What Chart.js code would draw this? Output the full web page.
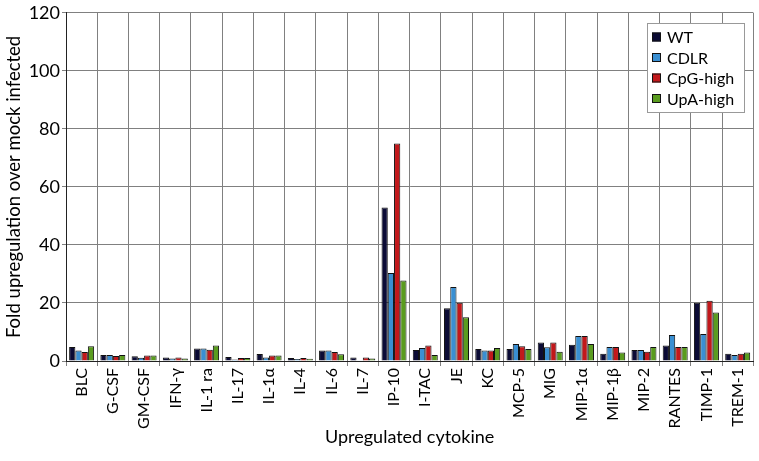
<!DOCTYPE html>
<html><head><meta charset="utf-8">
<script src="https://cdn.jsdelivr.net/npm/chart.js@4/dist/chart.umd.min.js"></script>
<style>html,body{margin:0;padding:0;background:#fff}</style>
</head><body>
<canvas id="c" width="759" height="461"></canvas>
<script>
const categories = ["BLC","G-CSF","GM-CSF","IFN-\u03b3","IL-1 ra","IL-17","IL-1\u03b1","IL-4","IL-6","IL-7","IP-10","I-TAC","JE","KC","MCP-5","MIG","MIP-1\u03b1","MIP-1\u03b2","MIP-2","RANTES","TIMP-1","TREM-1"];
const seriesNames = ["WT","CDLR","CpG-high","UpA-high"];
const wtValues   = [4.8,2.1,1.6,1.2,4.3,1.4,2.4,1.0,3.6,1.2,52.9,3.8,18.2,4.1,4.1,6.4,5.6,2.5,3.8,5.3,20.1,2.5];
const cdlrValues = [3.6,2.1,1.1,0.9,4.3,0.5,1.2,0.7,3.6,0.3,30.3,4.5,25.5,3.6,5.9,4.7,8.6,4.8,3.8,9.0,9.3,2.1];
const cpgValues  = [3.1,1.7,1.9,1.2,3.9,1.0,1.9,1.0,3.1,1.2,75.0,5.3,20.1,3.6,5.1,6.4,8.6,4.8,3.2,4.8,20.8,2.5];
const upaValues  = [5.1,2.1,1.9,0.9,5.3,1.0,1.9,0.8,2.3,0.9,27.7,2.1,15.1,4.5,4.1,3.2,5.9,2.9,4.8,4.8,16.7,2.9];
const yTicks = [0,20,40,60,80,100,120];
const colors = ["#0b0b35","#3a8fd2","#c2181b","#5a9c1f"];
const FONT = "Lato, 'Open Sans', sans-serif";

const legendBox = {
  id: 'legendBox',
  afterDraw(chart) {
    const ctx = chart.ctx;
    const x0 = 647, y0 = 23, w = 97, h = 89;
    ctx.save();
    ctx.fillStyle = '#fff';
    ctx.fillRect(x0, y0, w, h);
    ctx.strokeStyle = '#999';
    ctx.lineWidth = 1;
    ctx.strokeRect(x0 + 0.5, y0 + 0.5, w, h);
    ctx.font = "16px " + FONT;
    ctx.textBaseline = 'middle';
    chart.data.datasets.forEach((ds, i) => {
      const cy = y0 + 14 + i * 20.5;
      ctx.fillStyle = ds.backgroundColor;
      ctx.fillRect(x0 + 5, cy - 4.5, 9, 9);
      ctx.strokeStyle = '#111';
      ctx.strokeRect(x0 + 5.5, cy - 4, 8, 8);
      ctx.fillStyle = '#000';
      ctx.fillText(ds.label, x0 + 20, cy + 1);
    });
    ctx.restore();
  }
};

const values = [wtValues, cdlrValues, cpgValues, upaValues];
new Chart(document.getElementById('c'), {
  type: 'bar',
  data: {
    labels: categories,
    datasets: seriesNames.map((n, i) => ({
      label: n, data: values[i], backgroundColor: colors[i],
      borderColor: '#111', borderWidth: 1,
      categoryPercentage: 0.8, barPercentage: 1.0
    }))
  },
  options: {
    responsive: false, animation: false,
    layout: { padding: { top: 7, right: 5, left: 0, bottom: 0 } },
    plugins: { legend: { display: false }, tooltip: { enabled: false } },
    scales: {
      x: {
        grid: { color: '#808080', lineWidth: 1, offset: true, tickLength: 5 },
        border: { color: '#222', width: 1 },
        ticks: { color: '#000', font: { family: FONT, size: 16 }, maxRotation: 90, minRotation: 90, padding: 2, autoSkip: false },
        title: { display: true, text: 'Upregulated cytokine', color: '#000', font: { family: FONT, size: 18 }, padding: { top: 0, bottom: 13 } },
        afterFit(s) { s.height = 100; }
      },
      y: {
        min: 0, max: 120,
        afterBuildTicks(s) { s.ticks = yTicks.map(v => ({ value: v })); },
        grid: { color: '#808080', lineWidth: 1, tickLength: 4 },
        border: { color: '#222', width: 1 },
        ticks: { color: '#000', font: { family: FONT, size: 18 }, padding: 2 },
        title: { display: true, text: 'Fold upregulation over mock infected', color: '#000', font: { family: FONT, size: 18.5 }, padding: { top: 3, bottom: 0 } },
        afterFit(s) { s.width = 66; }
      }
    }
  },
  plugins: [legendBox]
});
</script>
</body></html>
